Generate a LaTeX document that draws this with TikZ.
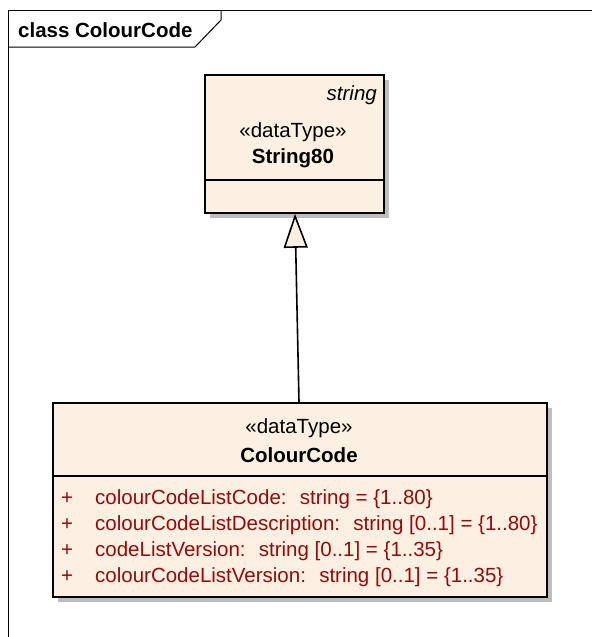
\documentclass[tikz,border=0pt]{standalone}
\usepackage{fontspec}
\setmainfont{Liberation Sans}
\usetikzlibrary{
  calc,positioning,shadows,
  arrows.meta
}
\definecolor{boxfill}{RGB}{251,240,225}
\definecolor{attrred}{RGB}{145,12,12}
\definecolor{shadowgray}{RGB}{190,190,190}
\tikzset{
  umlbox/.style={draw=black,line width=1.8pt,fill=boxfill,
    drop shadow={shadow xshift=5pt,shadow yshift=-5pt,fill=shadowgray,opacity=1}},
  umltext/.style={inner sep=0pt,font=\fontsize{20.5}{24}\selectfont},
  attr/.style={umltext,text=attrred,anchor=west},
  gen/.style={line width=1.6pt,-{Triangle[length=34pt,width=24pt,fill=boxfill]}}
}
\begin{document}
\begin{tikzpicture}[x=1pt,y=-1pt]
\useasboundingbox (0,0) rectangle (592,637);

\draw[line width=1pt] (8,637) -- (8,10) -- (592,10);
\draw[line width=1pt] (8,47) -- (195,47) -- (221,20) -- (221,10);
\node[umltext,anchor=west] (title) at (18,30) {\bfseries class ColourCode};

\node[umlbox,anchor=north west,minimum width=179pt,minimum height=138pt] (s80) at (204,74) {};
\draw[line width=1.8pt] (s80.west |- 0,180) -- (s80.east |- 0,180);
\node[umltext,anchor=east] (s80tag) at (377,95) {\itshape string};
\node[umltext] (s80st) at (293,132) {«dataType»};
\node[umltext] (s80name) at (293,158) {\bfseries String80};

\node[umlbox,anchor=north west,minimum width=494pt,minimum height=194pt] (cc) at (52,402) {};
\draw[line width=1.8pt] (cc.west |- 0,476) -- (cc.east |- 0,476);
\node[umltext] (ccst) at (299,428) {«dataType»};
\node[umltext] (ccname) at (299,455) {\bfseries ColourCode};

\foreach \y/\txt [count=\i] in {
  499/{colourCodeListCode:~ string = \{1..80\}},
  525/{colourCodeListDescription:~ string [0..1] = \{1..80\}},
  551/{codeListVersion:~ string [0..1] = \{1..35\}},
  577/{colourCodeListVersion:~ string [0..1] = \{1..35\}}}{
  \node[attr] (vis\i) at (61,\y) {+};
  \node[attr] (attr\i) at (95,\y) {\txt};
}

\coordinate (genfrom) at ($(cc.north west)+(247,0)$);
\coordinate (gento) at ($(s80.south west)+(91,0)$);
\draw[gen] (genfrom) -- (gento);
\end{tikzpicture}
\end{document}
